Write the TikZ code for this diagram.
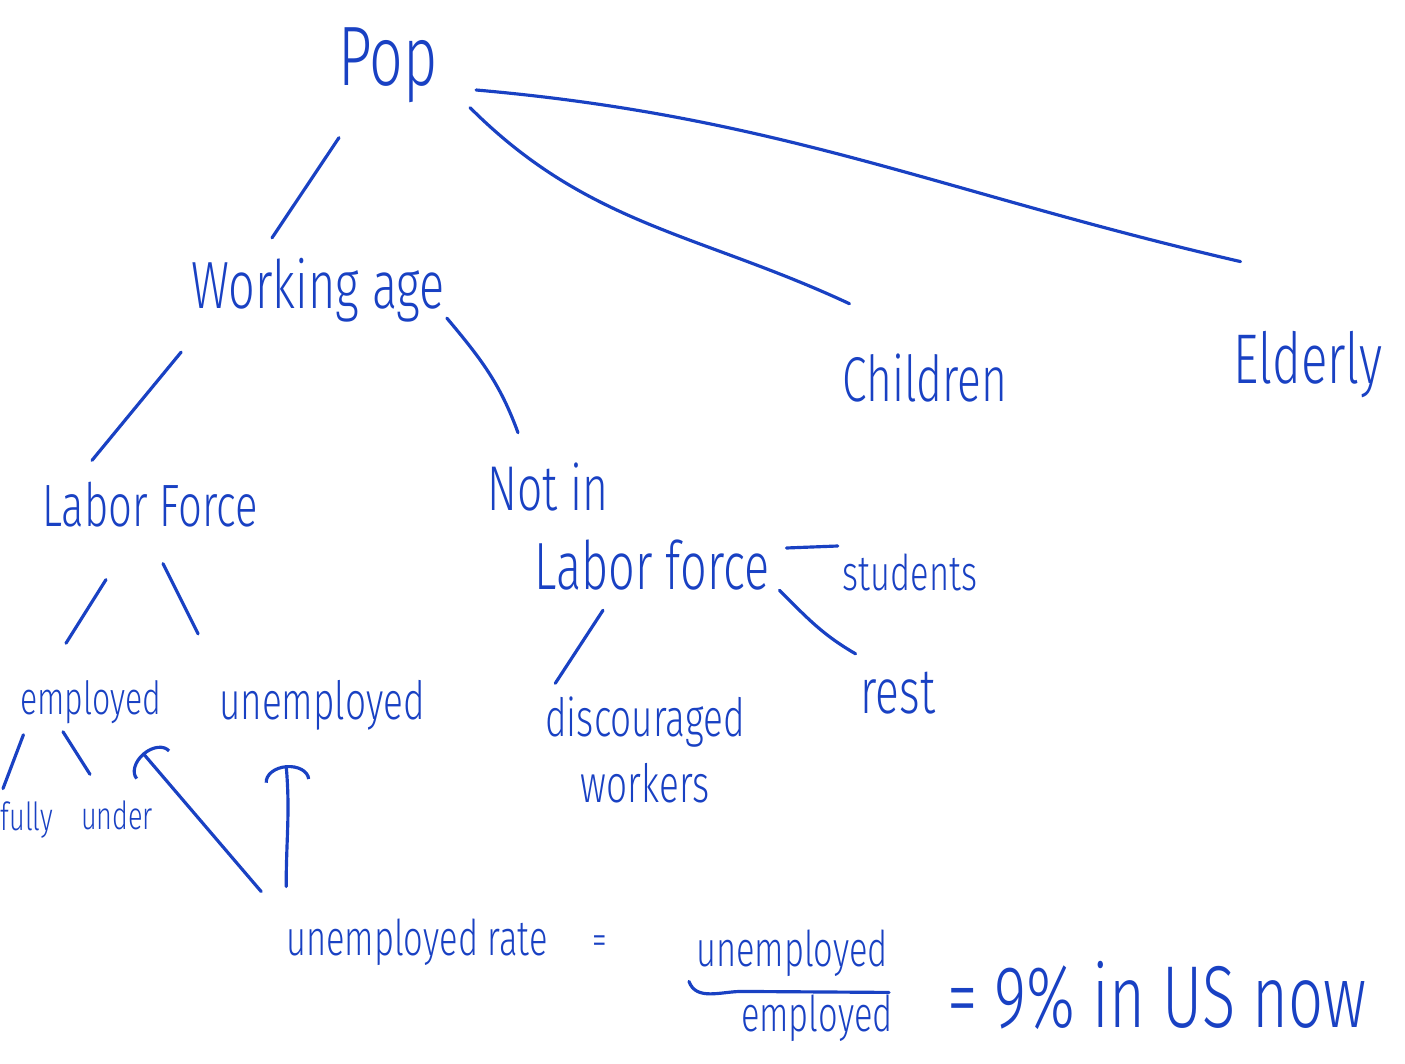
\documentclass[tikz,border=0pt]{standalone}
\usepackage{fontspec}
\usepackage{xcolor}
\usepackage{tikz}
\usetikzlibrary{arrows.meta}
\newfontfamily\handfont[FakeStretch=0.7]{Fira Sans Light}
\newcommand{\hs}[1]{\handfont\fontsize{#1}{#1}\selectfont}
\newcommand{\hsb}[2]{\handfont\fontsize{#1}{#2}\selectfont}
\definecolor{inkblue}{RGB}{25,65,195}

\begin{document}
\begin{tikzpicture}[
  x=0.01cm,y=-0.01cm,
  color=inkblue,
  every node/.style={inner sep=1pt,align=center},
  line width=0.9pt,line cap=round,
  pointer/.style={-{Arc Barb[width=13pt,length=4.5pt]}}
]
\fill[white] (0,0) rectangle (1405,1064);
\useasboundingbox (0,0) rectangle (1405,1064);

% population tree
\node[font=\hs{24}] (pop) at (388,65) {Pop};
\node[font=\hs{19}] (work) at (318,290) {Working age};
\node[font=\hs{18}] (child) at (925,378) {Children};
\node[font=\hs{20}] (elder) at (1308,365) {Elderly};
\node[font=\hs{17}] (labor) at (150,505) {Labor Force};
\node[font=\hs{18}] (notin) at (548,487) {Not in};
\node[font=\hs{19}] (nilf) at (652,565) {Labor force};
\node[font=\hs{14}] (students) at (910,572) {students};
\node[font=\hs{18}] (rest) at (898,693) {rest};
\node[font=\hsb{15}{19}] (disc) at (645,750) {discouraged\\workers};
\node[font=\hs{13}] (employed) at (91,702) {employed};
\node[font=\hs{15}] (unemp) at (322,705) {unemployed};
\node[font=\hs{11}] (fully) at (27,820) {fully};
\node[font=\hs{11}] (under) at (117,815) {under};

% rate formula
\node[font=\hs{14}] (rate) at (417,942) {unemployed rate};
\node[font=\hs{12}] (eqa) at (600,945) {=};
\node[font=\hs{14}] (num) at (792,953) {unemployed};
\node[font=\hs{14}] (den) at (817,1018) {employed};
\node[font=\hs{25}] (value) at (1157,995) {= 9\% in US now};

\draw ([shift={(-49,30)}]pop.south) -- ([shift={(-46,-15)}]work.north);
\draw ([shift={(27,0)}]pop.south east) to[out=-45,in=155] ([shift={(12,-45)}]child.north west);
\draw ([shift={(33,25)}]pop.east) to[out=-5,in=167] ([shift={(12,-65)}]elder.north west);
\draw ([shift={(-5,25)}]work.south west) -- ([shift={(-58,-17)}]labor.north);
\draw ([shift={(-3,-9)}]work.south east) to[out=-50,in=110] ([shift={(-30,-25)}]notin.north);
\draw ([shift={(-44,47)}]labor.south) -- ([shift={(-25,-32)}]employed.north);
\draw ([shift={(13,31)}]labor.south) -- ([shift={(-16,-41)}]unemp.north west);
\draw ([shift={(8,6)}]employed.south west) -- ([shift={(-24,-8)}]fully.north);
\draw ([shift={(-28,3)}]employed.south) -- ([shift={(-27,-21)}]under.north);
\draw ([shift={(12,-17)}]nilf.east) -- ([shift={(0,-26)}]students.west);
\draw ([shift={(5,-5)}]nilf.south east) to[out=-45,in=150] ([shift={(0,-13)}]rest.north west);
\draw ([shift={(-49,15)}]nilf.south) -- ([shift={(15,-8)}]disc.north west);

\draw[pointer] ([shift={(-20,-22)}]rate.north west) -- ([shift={(-24,24)}]employed.south east);
\draw[pointer] ([shift={(5,-27)}]rate.north west) to[out=90,in=-85] ([shift={(72,30)}]unemp.south west);
\draw ([shift={(-2,0)}]num.south west) to[out=-70,in=180] ([shift={(-50,10)}]num.south) -- ([shift={(-4,11)}]num.south east);
\end{tikzpicture}
\end{document}
